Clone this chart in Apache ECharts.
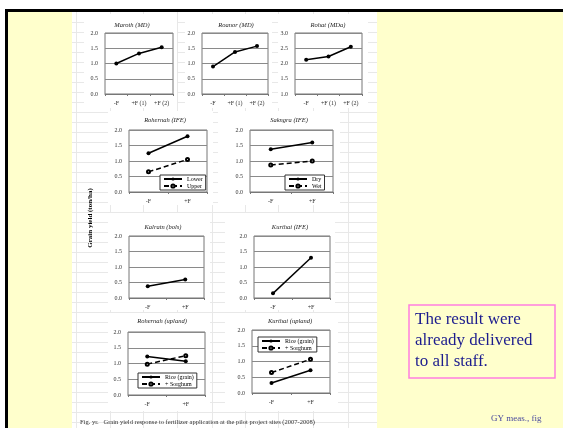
<!DOCTYPE html>
<html>
<head>
<meta charset="utf-8">
<script src="https://cdn.jsdelivr.net/npm/echarts@6/dist/echarts.min.js"></script>
<style>
html,body{margin:0;padding:0;background:#fff;}
#main{width:563px;height:428px;}
</style>
</head>
<body>
<div id="main"></div>
<script>
// categories
var cat3 = ['-F', '+F (1)', '+F (2)'];
var cat2 = ['-F', '+F'];
var titles = ['Maroth (MD)', 'Roanor (MD)', 'Rohat (MDa)', 'Rohernah (IFE)', 'Sakngra (IFE)',
              'Kalratn (bols)', 'Kurthai (IFE)', 'Rohernah (upland)', 'Kurthai (upland)'];
// values (ton/ha)
var maroth = [1.00, 1.33, 1.53];
var roanor = [0.90, 1.38, 1.57];
var rohat = [2.12, 2.23, 2.55];
var rohLower = [1.25, 1.80];
var rohUpper = [0.65, 1.05];
var sakDry = [1.38, 1.60];
var sakWet = [0.87, 1.00];
var kalratn = [0.38, 0.60];
var kurthai = [0.15, 1.30];
var rohRice = [1.22, 1.07];
var rohSorghum = [0.98, 1.25];
var kurRice = [0.32, 0.72];
var kurSorghum = [0.65, 1.07];

var myChart = echarts.init(document.getElementById('main'));
var serif = '"Liberation Serif", "Times New Roman", serif';

// plot boxes of the 9 small charts
var boxes = [
    {l:105, t:33, w:68, h:61, cx:132, ty:25},
    {l:202, t:33, w:66, h:61, cx:236, ty:25},
    {l:295, t:33, w:67, h:61, cx:328, ty:25},
    {l:129, t:130, w:78, h:62, cx:165, ty:120},
    {l:250, t:130, w:83, h:62, cx:289, ty:120},
    {l:129, t:236, w:75, h:62, cx:163, ty:227},
    {l:254, t:236, w:76, h:62, cx:290, ty:227},
    {l:128, t:332, w:77, h:63, cx:162, ty:321},
    {l:252, t:330, w:78, h:63, cx:290, ty:321}
];
var cats = [cat3, cat3, cat3, cat2, cat2, cat2, cat2, cat2, cat2];

var grids = [], xAxes = [], yAxes = [];
boxes.forEach(function (b, i) {
    grids.push({left:b.l, top:b.t, width:b.w, height:b.h, show:true,
        backgroundColor:'#fff', borderColor:'#777', borderWidth:1});
    xAxes.push({type:'category', gridIndex:i, data:cats[i], boundaryGap:true,
        axisLine:{show:true, lineStyle:{color:'#777'}},
        axisTick:{show:true, length:2, lineStyle:{color:'#777'}},
        axisLabel:{fontSize:6, margin:6, color:'#333', fontFamily:serif}});
    yAxes.push({type:'value', gridIndex:i, min:(i === 2 ? 1 : 0), max:(i === 2 ? 3 : 2), interval:0.5,
        axisLine:{show:false}, axisTick:{show:false},
        splitLine:{lineStyle:{color:'#8a8a8a', width:1.2}},
        axisLabel:{fontSize:6, margin:7, color:'#333', fontFamily:serif,
            formatter:function (v) { return v.toFixed(1); }}});
});

function solid(name, idx, data) {
    return {name:name, type:'line', xAxisIndex:idx, yAxisIndex:idx, data:data,
        symbol:'circle', symbolSize:4, itemStyle:{color:'#000'},
        lineStyle:{color:'#000', width:1.5}, animation:false};
}
function dashed(name, idx, data) {
    return {name:name, type:'line', xAxisIndex:idx, yAxisIndex:idx, data:data,
        symbol:'emptyCircle', symbolSize:3, itemStyle:{color:'#000', borderColor:'#000', borderWidth:1},
        lineStyle:{color:'#000', width:1.5, type:[5, 3]}, animation:false};
}

var series = [
    solid('Maroth', 0, maroth),
    solid('Roanor', 1, roanor),
    solid('Rohat', 2, rohat),
    solid('Lower', 3, rohLower),
    dashed('Upper', 3, rohUpper),
    solid('Dry', 4, sakDry),
    dashed('Wet', 4, sakWet),
    solid('Kalratn', 5, kalratn),
    solid('Kurthai', 6, kurthai),
    solid('Rice (grain)', 7, rohRice),
    dashed('+ Sorghum', 7, rohSorghum),
    solid('Rice (grain)', 8, kurRice),
    dashed('+ Sorghum', 8, kurSorghum)
];

function legendAt(names, left, top) {
    return {data:names, left:left, top:top, orient:'vertical', itemWidth:18, itemHeight:4,
        itemGap:1, padding:[1, 3], borderColor:'#333', borderWidth:1, backgroundColor:'#fff',
        selectedMode:false, textStyle:{fontSize:6, fontFamily:serif, color:'#000'}};
}

// background, frame and faint sheet gridlines
var deco = [];
deco.push({type:'rect', z:-20, shape:{x:8, y:12, width:555, height:416}, style:{fill:'#FFFFCC'}});
deco.push({type:'rect', z:-20, shape:{x:5, y:9, width:558, height:3}, style:{fill:'#000'}});
deco.push({type:'rect', z:-20, shape:{x:5, y:9, width:3, height:419}, style:{fill:'#000'}});
deco.push({type:'rect', z:-19, shape:{x:72, y:12, width:305, height:416}, style:{fill:'#fff'}});
[76, 110, 143, 177, 212, 245, 278, 313, 348].forEach(function (x) {
    deco.push({type:'line', z:-18, shape:{x1:x + 0.5, y1:12, x2:x + 0.5, y2:428},
        style:{stroke:'#e8e8e8', lineWidth:1}});
});
for (var y = 22; y < 428; y += 10) {
    deco.push({type:'line', z:-18, shape:{x1:72, y1:y + 0.5, x2:377, y2:y + 0.5},
        style:{stroke:'#e8e8e8', lineWidth:1}});
}
// white chart areas
[[84, 14, 93, 94], [185, 14, 87, 94], [278, 14, 90, 94],
 [108, 111, 105, 94], [218, 111, 122, 94],
 [108, 213, 102, 97], [225, 213, 110, 97],
 [108, 313, 102, 98], [225, 313, 113, 98]].forEach(function (r) {
    deco.push({type:'rect', z:-17, shape:{x:r[0], y:r[1], width:r[2], height:r[3]}, style:{fill:'#fff'}});
});
boxes.forEach(function (b, i) {
    deco.push({type:'text', z:10, x:b.cx, y:b.ty, style:{text:titles[i], align:'center', verticalAlign:'middle',
        font:'italic 6.5px ' + serif, fill:'#222'}});
});
deco.push({type:'text', z:10, x:90, y:218, rotation:Math.PI / 2,
    style:{text:'Grain yield (ton/ha)', align:'center', verticalAlign:'middle', font:'bold 7px ' + serif, fill:'#000'}});
deco.push({type:'text', z:10, x:80, y:422,
    style:{text:'Fig. yr.   Grain yield response to fertilizer application at the pilot project sites (2007-2008)',
        align:'left', verticalAlign:'middle', font:'6.5px ' + serif, fill:'#333'}});
deco.push({type:'rect', z:10, shape:{x:409, y:305, width:146, height:73},
    style:{fill:'transparent', stroke:'#ff7fe0', lineWidth:1.5}});
deco.push({type:'text', z:10, x:415, y:309,
    style:{text:'The result were\nalready delivered\nto all staff.', align:'left', verticalAlign:'top',
        font:'17px ' + serif, lineHeight:21, fill:'#1c1c8e'}});
deco.push({type:'text', z:10, x:491, y:419,
    style:{text:'GY meas., fig', align:'left', verticalAlign:'middle', font:'9px ' + serif, fill:'#4a4a9e'}});

var option = {
    backgroundColor:'#fff',
    animation:false,
    grid:grids,
    xAxis:xAxes,
    yAxis:yAxes,
    legend:[
        legendAt(['Lower', 'Upper'], 160, 175),
        legendAt(['Dry', 'Wet'], 285, 175),
        legendAt(['Rice (grain)', '+ Sorghum'], 138, 373),
        legendAt(['Rice (grain)', '+ Sorghum'], 258, 337)
    ],
    graphic:deco,
    series:series
};
myChart.setOption(option);
</script>
</body>
</html>
